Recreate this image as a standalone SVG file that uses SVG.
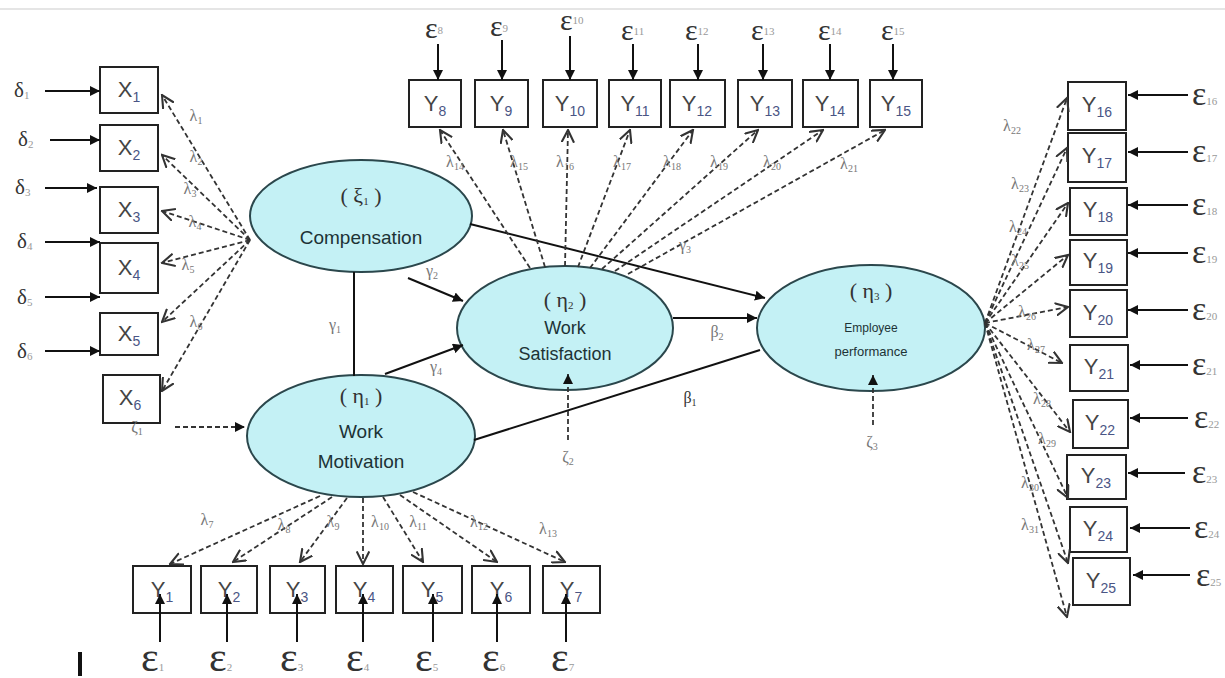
<svg xmlns="http://www.w3.org/2000/svg" width="1225" height="678" viewBox="0 0 1225 678">
<defs>
<marker id="solid" viewBox="0 0 10 10" refX="10" refY="5" markerWidth="10" markerHeight="10" markerUnits="userSpaceOnUse" orient="auto"><path d="M0,0 L10,5 L0,10 z" fill="#111"/></marker>
<marker id="open" viewBox="0 0 10 10" refX="9" refY="5" markerWidth="14" markerHeight="14" markerUnits="userSpaceOnUse" orient="auto"><path d="M0,0.5 L9,5 L0,9.5" fill="none" stroke="#333" stroke-width="1.5"/></marker>
</defs>
<style>
.box{fill:#fff;stroke:#222;stroke-width:2}
.ell{fill:#c4f1f5;stroke:#2b474c;stroke-width:2}
.lab{font-family:"Liberation Sans",Arial,sans-serif;font-size:22px;fill:#444;text-anchor:middle}
.sub{font-size:14px;fill:#4a5585}
.et{font-family:"Liberation Sans",Arial,sans-serif;fill:#1d3336;text-anchor:middle}
.gr{font-family:"Liberation Serif","Times New Roman",serif;fill:#333;text-anchor:middle}
.lam{font-family:"Liberation Serif","Times New Roman",serif;font-size:16px;fill:#777;text-anchor:middle}
.ls{font-size:10px}
.err{font-family:"Liberation Serif","Times New Roman",serif;font-size:30px;fill:#333}
.er{font-size:34px}
.eb{font-size:42px}
.dt{font-size:21px}
.es{font-size:11px;fill:#999}
.sl{stroke:#111;stroke-width:2;fill:none}
.dl{stroke:#333;stroke-width:1.8;stroke-dasharray:5,3;fill:none}
</style>
<rect width="1225" height="678" fill="#fff"/>
<line x1="0" y1="9" x2="1225" y2="9" stroke="#ddd" stroke-width="1.5"/>
<rect x="78" y="652" width="4" height="24" fill="#111"/>

<g id="comp"><ellipse class="ell" cx="361" cy="216" rx="111" ry="56"/><text class="gr" x="361" y="203" font-size="22">( ξ<tspan font-size="11" dy="2">1</tspan><tspan dy="-2"> )</tspan></text><text class="et" x="361" y="244" font-size="19">Compensation</text></g>
<g id="motivation"><ellipse class="ell" cx="361" cy="436" rx="114" ry="61"/><text class="gr" x="361" y="403" font-size="22">( η<tspan font-size="11" dy="2">1</tspan><tspan dy="-2"> )</tspan></text><text class="et" x="361" y="438" font-size="19">Work</text><text class="et" x="361" y="468" font-size="19">Motivation</text></g>
<g id="satisfaction"><ellipse class="ell" cx="565" cy="328" rx="108" ry="62"/><text class="gr" x="565" y="307" font-size="22">( η<tspan font-size="11" dy="2">2</tspan><tspan dy="-2"> )</tspan></text><text class="et" x="565" y="334" font-size="18">Work</text><text class="et" x="565" y="360" font-size="18">Satisfaction</text></g>
<g id="performance"><ellipse class="ell" cx="871" cy="328" rx="114" ry="63"/><text class="gr" x="871" y="298" font-size="22">( η<tspan font-size="11" dy="2">3</tspan><tspan dy="-2"> )</tspan></text><text class="et" x="871" y="332" font-size="12">Employee</text><text class="et" x="871" y="356" font-size="13">performance</text></g>

<g id="x-indicators">
<g id="X1"><rect class="box" x="100" y="67" width="58" height="46"/><text class="lab" x="129" y="97">X<tspan class="sub" dy="5">1</tspan></text><text class="err dt" x="14" y="97">δ<tspan class="es" dy="2">1</tspan></text></g>
<g id="X2"><rect class="box" x="100" y="125" width="58" height="46"/><text class="lab" x="129" y="155">X<tspan class="sub" dy="5">2</tspan></text><text class="err dt" x="18" y="146">δ<tspan class="es" dy="2">2</tspan></text></g>
<g id="X3"><rect class="box" x="100" y="187" width="58" height="46"/><text class="lab" x="129" y="217">X<tspan class="sub" dy="5">3</tspan></text><text class="err dt" x="15" y="194">δ<tspan class="es" dy="2">3</tspan></text></g>
<g id="X4"><rect class="box" x="100" y="243" width="58" height="50"/><text class="lab" x="129" y="275">X<tspan class="sub" dy="5">4</tspan></text><text class="err dt" x="17" y="248">δ<tspan class="es" dy="2">4</tspan></text></g>
<g id="X5"><rect class="box" x="100" y="313" width="58" height="42"/><text class="lab" x="129" y="341">X<tspan class="sub" dy="5">5</tspan></text><text class="err dt" x="17" y="304">δ<tspan class="es" dy="2">5</tspan></text></g>
<g id="X6"><rect class="box" x="103" y="375" width="57" height="48"/><text class="lab" x="130" y="405">X<tspan class="sub" dy="5">6</tspan></text><text class="err dt" x="17" y="358">δ<tspan class="es" dy="2">6</tspan></text></g>
</g>

<g id="y-top">
<g id="Y8"><rect class="box" x="409" y="80" width="52" height="47"/><text class="lab" x="435" y="111">Y<tspan class="sub" dy="5">8</tspan></text><text class="err" x="425" y="38">ε<tspan class="es" dy="-4">8</tspan></text></g>
<g id="Y9"><rect class="box" x="475" y="80" width="53" height="47"/><text class="lab" x="501" y="111">Y<tspan class="sub" dy="5">9</tspan></text><text class="err" x="490" y="36">ε<tspan class="es" dy="-4">9</tspan></text></g>
<g id="Y10"><rect class="box" x="543" y="80" width="54" height="47"/><text class="lab" x="570" y="111">Y<tspan class="sub" dy="5">10</tspan></text><text class="err" x="560" y="30">ε<tspan class="es" dy="-6">10</tspan></text></g>
<g id="Y11"><rect class="box" x="609" y="80" width="52" height="47"/><text class="lab" x="635" y="111">Y<tspan class="sub" dy="5">11</tspan></text><text class="err" x="621" y="40">ε<tspan class="es" dy="-5">11</tspan></text></g>
<g id="Y12"><rect class="box" x="670" y="80" width="55" height="47"/><text class="lab" x="697" y="111">Y<tspan class="sub" dy="5">12</tspan></text><text class="err" x="685" y="40">ε<tspan class="es" dy="-5">12</tspan></text></g>
<g id="Y13"><rect class="box" x="738" y="80" width="54" height="47"/><text class="lab" x="765" y="111">Y<tspan class="sub" dy="5">13</tspan></text><text class="err" x="751" y="40">ε<tspan class="es" dy="-5">13</tspan></text></g>
<g id="Y14"><rect class="box" x="803" y="80" width="55" height="47"/><text class="lab" x="830" y="111">Y<tspan class="sub" dy="5">14</tspan></text><text class="err" x="818" y="40">ε<tspan class="es" dy="-5">14</tspan></text></g>
<g id="Y15"><rect class="box" x="870" y="80" width="52" height="47"/><text class="lab" x="896" y="111">Y<tspan class="sub" dy="5">15</tspan></text><text class="err" x="881" y="40">ε<tspan class="es" dy="-5">15</tspan></text></g>
</g>

<g id="y-right">
<g id="Y16"><rect class="box" x="1068" y="82" width="58" height="48"/><text class="lab" x="1097" y="112">Y<tspan class="sub" dy="5">16</tspan></text><text class="err er" x="1192" y="105">ε<tspan class="es">16</tspan></text></g>
<g id="Y17"><rect class="box" x="1068" y="133" width="58" height="49"/><text class="lab" x="1097" y="163">Y<tspan class="sub" dy="5">17</tspan></text><text class="err er" x="1192" y="162">ε<tspan class="es">17</tspan></text></g>
<g id="Y18"><rect class="box" x="1070" y="188" width="57" height="47"/><text class="lab" x="1098" y="217">Y<tspan class="sub" dy="5">18</tspan></text><text class="err er" x="1192" y="215">ε<tspan class="es">18</tspan></text></g>
<g id="Y19"><rect class="box" x="1070" y="240" width="57" height="45"/><text class="lab" x="1098" y="268">Y<tspan class="sub" dy="5">19</tspan></text><text class="err er" x="1192" y="263">ε<tspan class="es">19</tspan></text></g>
<g id="Y20"><rect class="box" x="1070" y="290" width="57" height="47"/><text class="lab" x="1098" y="320">Y<tspan class="sub" dy="5">20</tspan></text><text class="err er" x="1192" y="320">ε<tspan class="es">20</tspan></text></g>
<g id="Y21"><rect class="box" x="1070" y="345" width="58" height="46"/><text class="lab" x="1099" y="374">Y<tspan class="sub" dy="5">21</tspan></text><text class="err er" x="1192" y="375">ε<tspan class="es">21</tspan></text></g>
<g id="Y22"><rect class="box" x="1073" y="400" width="55" height="48"/><text class="lab" x="1100" y="430">Y<tspan class="sub" dy="5">22</tspan></text><text class="err er" x="1194" y="428">ε<tspan class="es">22</tspan></text></g>
<g id="Y23"><rect class="box" x="1067" y="455" width="59" height="44"/><text class="lab" x="1096" y="483">Y<tspan class="sub" dy="5">23</tspan></text><text class="err er" x="1192" y="483">ε<tspan class="es">23</tspan></text></g>
<g id="Y24"><rect class="box" x="1070" y="507" width="57" height="45"/><text class="lab" x="1098" y="536">Y<tspan class="sub" dy="5">24</tspan></text><text class="err er" x="1194" y="538">ε<tspan class="es">24</tspan></text></g>
<g id="Y25"><rect class="box" x="1073" y="558" width="57" height="47"/><text class="lab" x="1101" y="588">Y<tspan class="sub" dy="5">25</tspan></text><text class="err er" x="1196" y="586">ε<tspan class="es">25</tspan></text></g>
</g>

<g id="y-bottom">
<g id="Y1"><rect class="box" x="133" y="566" width="58" height="47"/><text class="lab" x="162" y="597">Y<tspan class="sub" dy="5">1</tspan></text><text class="err eb" x="141" y="671">ε<tspan class="es">1</tspan></text></g>
<g id="Y2"><rect class="box" x="201" y="566" width="56" height="47"/><text class="lab" x="229" y="597">Y<tspan class="sub" dy="5">2</tspan></text><text class="err eb" x="209" y="671">ε<tspan class="es">2</tspan></text></g>
<g id="Y3"><rect class="box" x="270" y="566" width="55" height="47"/><text class="lab" x="297" y="597">Y<tspan class="sub" dy="5">3</tspan></text><text class="err eb" x="280" y="671">ε<tspan class="es">3</tspan></text></g>
<g id="Y4"><rect class="box" x="336" y="566" width="57" height="47"/><text class="lab" x="364" y="597">Y<tspan class="sub" dy="5">4</tspan></text><text class="err eb" x="346" y="671">ε<tspan class="es">4</tspan></text></g>
<g id="Y5"><rect class="box" x="403" y="566" width="59" height="47"/><text class="lab" x="432" y="597">Y<tspan class="sub" dy="5">5</tspan></text><text class="err eb" x="415" y="671">ε<tspan class="es">5</tspan></text></g>
<g id="Y6"><rect class="box" x="472" y="566" width="58" height="47"/><text class="lab" x="501" y="597">Y<tspan class="sub" dy="5">6</tspan></text><text class="err eb" x="482" y="671">ε<tspan class="es">6</tspan></text></g>
<g id="Y7"><rect class="box" x="543" y="566" width="57" height="47"/><text class="lab" x="571" y="597">Y<tspan class="sub" dy="5">7</tspan></text><text class="err eb" x="551" y="671">ε<tspan class="es">7</tspan></text></g>
</g>

<g id="connectors">
<line class="sl" x1="354" y1="272" x2="354" y2="376"/>
<line class="sl" x1="408" y1="278" x2="463" y2="301" marker-end="url(#solid)"/>
<line class="sl" x1="385" y1="374" x2="463" y2="345" marker-end="url(#solid)"/>
<line class="sl" x1="470" y1="224" x2="765" y2="298" marker-end="url(#solid)"/>
<line class="sl" x1="474" y1="440" x2="760" y2="350"/>
<line class="sl" x1="673" y1="318" x2="757" y2="318" marker-end="url(#solid)"/>
<line class="dl" x1="175" y1="427" x2="245" y2="427" marker-end="url(#solid)"/>
<line class="dl" x1="568" y1="440" x2="568" y2="374" marker-end="url(#solid)"/>
<line class="dl" x1="873" y1="425" x2="873" y2="375" marker-end="url(#solid)"/>
<line class="sl" x1="45" y1="91" x2="100" y2="91" marker-end="url(#solid)"/>
<line class="sl" x1="50" y1="140" x2="100" y2="140" marker-end="url(#solid)"/>
<line class="sl" x1="45" y1="188" x2="97" y2="188" marker-end="url(#solid)"/>
<line class="sl" x1="45" y1="242" x2="100" y2="242" marker-end="url(#solid)"/>
<line class="sl" x1="45" y1="297" x2="100" y2="297" marker-end="url(#solid)"/>
<line class="sl" x1="45" y1="351" x2="100" y2="351" marker-end="url(#solid)"/>
<line class="dl" x1="250" y1="240" x2="162" y2="95" marker-end="url(#open)"/>
<line class="dl" x1="250" y1="240" x2="162" y2="155" marker-end="url(#open)"/>
<line class="dl" x1="250" y1="240" x2="162" y2="211" marker-end="url(#open)"/>
<line class="dl" x1="250" y1="240" x2="162" y2="263" marker-end="url(#open)"/>
<line class="dl" x1="250" y1="240" x2="162" y2="322" marker-end="url(#open)"/>
<line class="dl" x1="250" y1="240" x2="162" y2="391" marker-end="url(#open)"/>
<line class="sl" x1="438" y1="44" x2="438" y2="80" marker-end="url(#solid)"/>
<line class="sl" x1="502" y1="40" x2="502" y2="80" marker-end="url(#solid)"/>
<line class="sl" x1="570" y1="36" x2="570" y2="80" marker-end="url(#solid)"/>
<line class="sl" x1="633" y1="44" x2="633" y2="80" marker-end="url(#solid)"/>
<line class="sl" x1="698" y1="44" x2="698" y2="80" marker-end="url(#solid)"/>
<line class="sl" x1="763" y1="44" x2="763" y2="80" marker-end="url(#solid)"/>
<line class="sl" x1="830" y1="44" x2="830" y2="80" marker-end="url(#solid)"/>
<line class="sl" x1="893" y1="44" x2="893" y2="80" marker-end="url(#solid)"/>
<line class="dl" x1="530" y1="268" x2="440" y2="130" marker-end="url(#open)"/>
<line class="dl" x1="545" y1="267" x2="503" y2="130" marker-end="url(#open)"/>
<line class="dl" x1="565" y1="266" x2="568" y2="130" marker-end="url(#open)"/>
<line class="dl" x1="578" y1="267" x2="630" y2="130" marker-end="url(#open)"/>
<line class="dl" x1="590" y1="268" x2="693" y2="130" marker-end="url(#open)"/>
<line class="dl" x1="602" y1="269" x2="758" y2="130" marker-end="url(#open)"/>
<line class="dl" x1="615" y1="271" x2="823" y2="130" marker-end="url(#open)"/>
<line class="dl" x1="628" y1="274" x2="885" y2="130" marker-end="url(#open)"/>
<line class="dl" x1="320" y1="496" x2="170" y2="564" marker-end="url(#open)"/>
<line class="dl" x1="332" y1="497" x2="233" y2="562" marker-end="url(#open)"/>
<line class="dl" x1="347" y1="498" x2="300" y2="562" marker-end="url(#open)"/>
<line class="dl" x1="363" y1="498" x2="363" y2="564" marker-end="url(#open)"/>
<line class="dl" x1="383" y1="497" x2="423" y2="562" marker-end="url(#open)"/>
<line class="dl" x1="400" y1="495" x2="497" y2="562" marker-end="url(#open)"/>
<line class="dl" x1="413" y1="492" x2="565" y2="562" marker-end="url(#open)"/>
<line class="sl" x1="160" y1="642" x2="160" y2="594" marker-end="url(#solid)"/>
<line class="sl" x1="227" y1="642" x2="227" y2="594" marker-end="url(#solid)"/>
<line class="sl" x1="297" y1="642" x2="297" y2="594" marker-end="url(#solid)"/>
<line class="sl" x1="363" y1="642" x2="363" y2="594" marker-end="url(#solid)"/>
<line class="sl" x1="433" y1="642" x2="433" y2="594" marker-end="url(#solid)"/>
<line class="sl" x1="497" y1="642" x2="497" y2="594" marker-end="url(#solid)"/>
<line class="sl" x1="566" y1="642" x2="566" y2="594" marker-end="url(#solid)"/>
<line class="dl" x1="985" y1="323" x2="1067" y2="98" marker-end="url(#open)"/>
<line class="dl" x1="985" y1="323" x2="1067" y2="148" marker-end="url(#open)"/>
<line class="dl" x1="985" y1="323" x2="1068" y2="203" marker-end="url(#open)"/>
<line class="dl" x1="985" y1="323" x2="1068" y2="255" marker-end="url(#open)"/>
<line class="dl" x1="985" y1="323" x2="1068" y2="307" marker-end="url(#open)"/>
<line class="dl" x1="985" y1="323" x2="1062" y2="363" marker-end="url(#open)"/>
<line class="dl" x1="985" y1="323" x2="1070" y2="432" marker-end="url(#open)"/>
<line class="dl" x1="985" y1="323" x2="1068" y2="498" marker-end="url(#open)"/>
<line class="dl" x1="985" y1="323" x2="1068" y2="563" marker-end="url(#open)"/>
<line class="dl" x1="985" y1="323" x2="1067" y2="617" marker-end="url(#open)"/>
<line class="sl" x1="1188" y1="95" x2="1128" y2="95" marker-end="url(#solid)"/>
<line class="sl" x1="1188" y1="152" x2="1128" y2="152" marker-end="url(#solid)"/>
<line class="sl" x1="1188" y1="205" x2="1128" y2="205" marker-end="url(#solid)"/>
<line class="sl" x1="1188" y1="253" x2="1128" y2="253" marker-end="url(#solid)"/>
<line class="sl" x1="1188" y1="310" x2="1128" y2="310" marker-end="url(#solid)"/>
<line class="sl" x1="1188" y1="365" x2="1130" y2="365" marker-end="url(#solid)"/>
<line class="sl" x1="1188" y1="418" x2="1130" y2="418" marker-end="url(#solid)"/>
<line class="sl" x1="1185" y1="473" x2="1128" y2="473" marker-end="url(#solid)"/>
<line class="sl" x1="1190" y1="528" x2="1130" y2="528" marker-end="url(#solid)"/>
<line class="sl" x1="1190" y1="575" x2="1133" y2="575" marker-end="url(#solid)"/>
<text class="lam" x="335" y="330">γ<tspan class="ls" dy="3">1</tspan></text>
<text class="lam" x="432" y="276">γ<tspan class="ls" dy="3">2</tspan></text>
<text class="lam" x="685" y="250">γ<tspan class="ls" dy="3">3</tspan></text>
<text class="lam" x="436" y="372">γ<tspan class="ls" dy="3">4</tspan></text>
<text class="lam" x="717" y="337">β<tspan class="ls" dy="3">2</tspan></text>
<text class="gr" x="690" y="403" font-size="16">β<tspan class="ls" dy="3">1</tspan></text>
<text class="lam" x="137" y="432">ζ<tspan class="ls" dy="3">1</tspan></text>
<text class="lam" x="568" y="462">ζ<tspan class="ls" dy="3">2</tspan></text>
<text class="lam" x="872" y="447">ζ<tspan class="ls" dy="3">3</tspan></text>
<text class="lam" x="196" y="121">λ<tspan class="ls" dy="3">1</tspan></text>
<text class="lam" x="196" y="162">λ<tspan class="ls" dy="3">2</tspan></text>
<text class="lam" x="190" y="194">λ<tspan class="ls" dy="3">3</tspan></text>
<text class="lam" x="195" y="227">λ<tspan class="ls" dy="3">4</tspan></text>
<text class="lam" x="188" y="270">λ<tspan class="ls" dy="3">5</tspan></text>
<text class="lam" x="196" y="327">λ<tspan class="ls" dy="3">6</tspan></text>
<text class="lam" x="207" y="525">λ<tspan class="ls" dy="3">7</tspan></text>
<text class="lam" x="284" y="530">λ<tspan class="ls" dy="3">8</tspan></text>
<text class="lam" x="333" y="527">λ<tspan class="ls" dy="3">9</tspan></text>
<text class="lam" x="380" y="527">λ<tspan class="ls" dy="3">10</tspan></text>
<text class="lam" x="418" y="527">λ<tspan class="ls" dy="3">11</tspan></text>
<text class="lam" x="479" y="527">λ<tspan class="ls" dy="3">12</tspan></text>
<text class="lam" x="548" y="534">λ<tspan class="ls" dy="3">13</tspan></text>
<text class="lam" x="455" y="167">λ<tspan class="ls" dy="3">14</tspan></text>
<text class="lam" x="519" y="167">λ<tspan class="ls" dy="3">15</tspan></text>
<text class="lam" x="565" y="167">λ<tspan class="ls" dy="3">16</tspan></text>
<text class="lam" x="622" y="167">λ<tspan class="ls" dy="3">17</tspan></text>
<text class="lam" x="672" y="167">λ<tspan class="ls" dy="3">18</tspan></text>
<text class="lam" x="719" y="167">λ<tspan class="ls" dy="3">19</tspan></text>
<text class="lam" x="772" y="167">λ<tspan class="ls" dy="3">20</tspan></text>
<text class="lam" x="849" y="169">λ<tspan class="ls" dy="3">21</tspan></text>
<text class="lam" x="1012" y="131">λ<tspan class="ls" dy="3">22</tspan></text>
<text class="lam" x="1020" y="189">λ<tspan class="ls" dy="3">23</tspan></text>
<text class="lam" x="1018" y="232">λ<tspan class="ls" dy="3">24</tspan></text>
<text class="lam" x="1020" y="266">λ<tspan class="ls" dy="3">25</tspan></text>
<text class="lam" x="1027" y="317">λ<tspan class="ls" dy="3">26</tspan></text>
<text class="lam" x="1036" y="350">λ<tspan class="ls" dy="3">27</tspan></text>
<text class="lam" x="1042" y="404">λ<tspan class="ls" dy="3">28</tspan></text>
<text class="lam" x="1047" y="444">λ<tspan class="ls" dy="3">29</tspan></text>
<text class="lam" x="1030" y="488">λ<tspan class="ls" dy="3">30</tspan></text>
<text class="lam" x="1030" y="530">λ<tspan class="ls" dy="3">31</tspan></text>
</g>
</svg>
